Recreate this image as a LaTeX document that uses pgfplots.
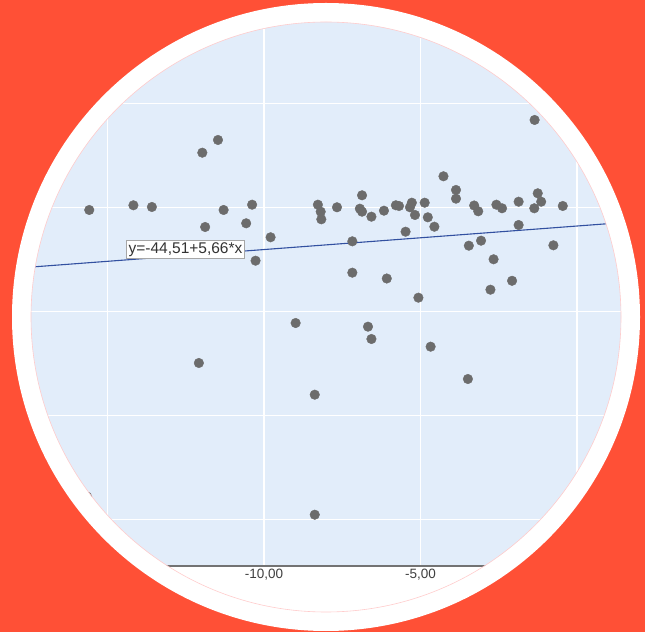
\documentclass[border=0pt]{standalone}
\usepackage{pgfplots}
\pgfplotsset{compat=1.18}
\usepackage{fontspec}
\setmainfont{Liberation Sans}
\definecolor{bgred}{RGB}{255,80,54}
\definecolor{plotbg}{RGB}{226,237,250}
\definecolor{fitblue}{RGB}{50,80,160}
\definecolor{dotgray}{RGB}{108,108,108}

\pgfplotstableread{
x y
-15.58 -6.0
-14.17 5.3
-13.58 1.2
-11.97 131.7
-11.47 162.3
-11.29 -6.0
-10.38 6.7
-11.88 -46.9
-10.57 -38.0
-9.79 -71.6
-10.27 -127.9
-8.28 6.7
-8.19 -10.1
-8.17 -28.4
-7.67 0.5
-6.87 29.3
-6.94 -2.9
-6.87 -10.1
-6.57 -22.1
-6.17 -7.7
-5.79 5.3
-5.69 3.6
-5.28 11.5
-5.34 0.5
-5.18 -18.0
-4.87 11.5
-4.77 -23.6
-4.56 -46.2
-5.48 -58.2
-7.18 -81.3
-4.27 75.0
-3.87 42.1
-3.87 21.2
-3.29 4.8
-3.16 -9.1
-3.46 -91.8
-3.07 -79.8
-7.18 -156.7
-6.08 -170.7
-1.36 210.4
-2.58 6.7
-2.40 -1.9
-1.87 13.9
-1.26 34.1
-1.15 13.9
-1.37 -1.9
-0.46 3.6
-1.87 -42.1
-0.76 -90.9
-2.67 -124.5
-2.08 -176.2
-2.77 -197.6
-8.99 -277.7
-6.68 -286.5
-6.57 -316.1
-12.08 -373.8
-8.38 -450.0
-8.38 -738.5
-5.07 -216.8
-4.68 -334.6
-3.49 -412.3
-15.65 -695.0
}\points

\begin{document}
\begin{tikzpicture}[x=1pt,y=1pt]
\fill[bgred] (0,0) rectangle (645,632);
\fill[white] (326,315) circle (314);
\begin{scope}
\clip (326,315) circle (295);
\begin{axis}[
  at={(0pt,66pt)}, anchor=south west,
  scale only axis, width=645pt, height=566pt,
  xmin=-18.43, xmax=2.165, ymin=-861.8, ymax=498.8,
  axis background/.style={fill=plotbg},
  grid=major, grid style={white, line width=1.5pt},
  xtick={-15,-10,-5,0},
  xticklabels={{-15,00},{-10,00},{-5,00},{0,00}},
  ytick={-750,-500,-250,0,250}, yticklabels={},
  major tick length=0pt,
  axis line style={draw=black!55, line width=1.5pt},
  xticklabel style={font=\fontsize{13.5}{14}\selectfont, text=black!75},
]
\addplot[fitblue, line width=1.1pt] coordinates {(-18.43,-148.82) (2.165,-32.26)};
\addplot[only marks, mark=*, mark size=4.8pt, color=dotgray] table[x=x, y=y] {\points};
\node[draw=gray!70, fill=white, font=\fontsize{15.5}{16}\selectfont, inner sep=2pt, text=black!80]
  at (axis cs:-12.506,-101) {y=-44,51+5,66*x};
\end{axis}
\end{scope}
\draw[red!20, line width=0.6pt] (326,315) circle (295);
\pgfresetboundingbox
\useasboundingbox (0,0) rectangle (645,632);
\end{tikzpicture}
\end{document}
